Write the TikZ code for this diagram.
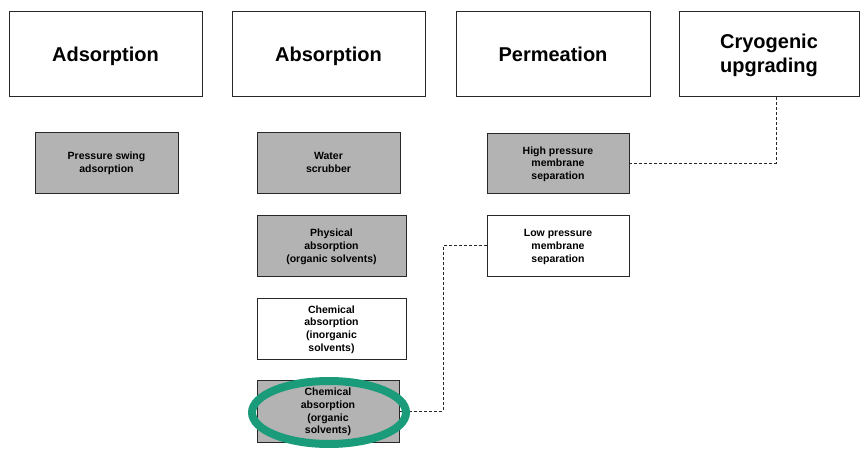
\documentclass[tikz,border=0pt]{standalone}
\usepackage{fontspec}
\setmainfont{Liberation Sans}
\definecolor{boxgray}{RGB}{179,179,179}
\definecolor{framegray}{RGB}{40,40,40}
\definecolor{ringgreen}{RGB}{26,155,122}
% centred block of lines with no height of its own, lowered by #1 from the box centre
\newcommand{\lowblock}[2]{\raisebox{-#1}[0pt][0pt]{\begin{tabular}{@{}c@{}}#2\end{tabular}}}
\begin{document}
\begin{tikzpicture}[x=1pt,y=-1pt,
  family/.style={draw=framegray, line width=0.8pt, fill=white, inner sep=0pt,
    minimum width=193pt, minimum height=85pt,
    font=\fontsize{20}{24}\selectfont\bfseries},
  method/.style={draw=framegray, line width=0.9pt, inner sep=0pt,
    minimum height=61pt, font=\fontsize{10.5}{12.7}\selectfont\bfseries},
  graybox/.style={method, fill=boxgray},
  whitebox/.style={method, fill=white},
  link/.style={draw=framegray, line width=0.8pt, dash pattern=on 3pt off 2pt},
  ring/.style={draw=ringgreen, line width=8pt}]
\useasboundingbox (0,0) rectangle (860,452);

% technology families
\node[family] (ads) at (105.5,53.5) {\lowblock{8.5pt}{Adsorption}};
\node[family] (abs) at (328.5,53.5) {\lowblock{8.5pt}{Absorption}};
\node[family, minimum width=194pt] (perm) at (553,53.5) {\lowblock{8.5pt}{Permeation}};
\node[family, minimum width=180pt] (cryo) at (769,53.5) {\lowblock{7.5pt}{Cryogenic\\upgrading}};

% individual processes
\node[graybox, minimum width=143pt] (psa) at (106.5,162.5) {\lowblock{4pt}{Pressure swing\\adsorption}};
\node[graybox, minimum width=143pt] (water) at (328.5,162.5) {\lowblock{4pt}{Water\\scrubber}};
\node[graybox, minimum width=149pt] (phys) at (331.5,245.5) {\lowblock{4pt}{Physical\\absorption\\(organic solvents)}};
\node[whitebox, minimum width=149pt] (chemi) at (331.5,328.5) {\lowblock{4pt}{Chemical\\absorption\\(inorganic\\solvents)}};
\node[graybox, minimum width=142pt, minimum height=62pt] (chemo) at (328,411) {\lowblock{4pt}{Chemical\\absorption\\(organic\\solvents)}};
\node[graybox, minimum width=142pt, minimum height=60pt] (hp) at (558,163) {\lowblock{4pt}{High pressure\\membrane\\separation}};
\node[whitebox, minimum width=142pt] (lp) at (558,245.5) {\lowblock{4pt}{Low pressure\\membrane\\separation}};

% dashed links between processes
\coordinate (j1) at (443,0);
\coordinate (j2) at (776,0);
\draw[link] (chemo.east) -- (chemo.east -| j1) |- (lp.west);
\draw[link] (hp.east) -- (hp.east -| j2) -- (j2 |- cryo.south);

% highlight ring
\draw[ring] (329,412.5) ellipse [x radius=77pt, y radius=31.5pt];
\end{tikzpicture}
\end{document}
